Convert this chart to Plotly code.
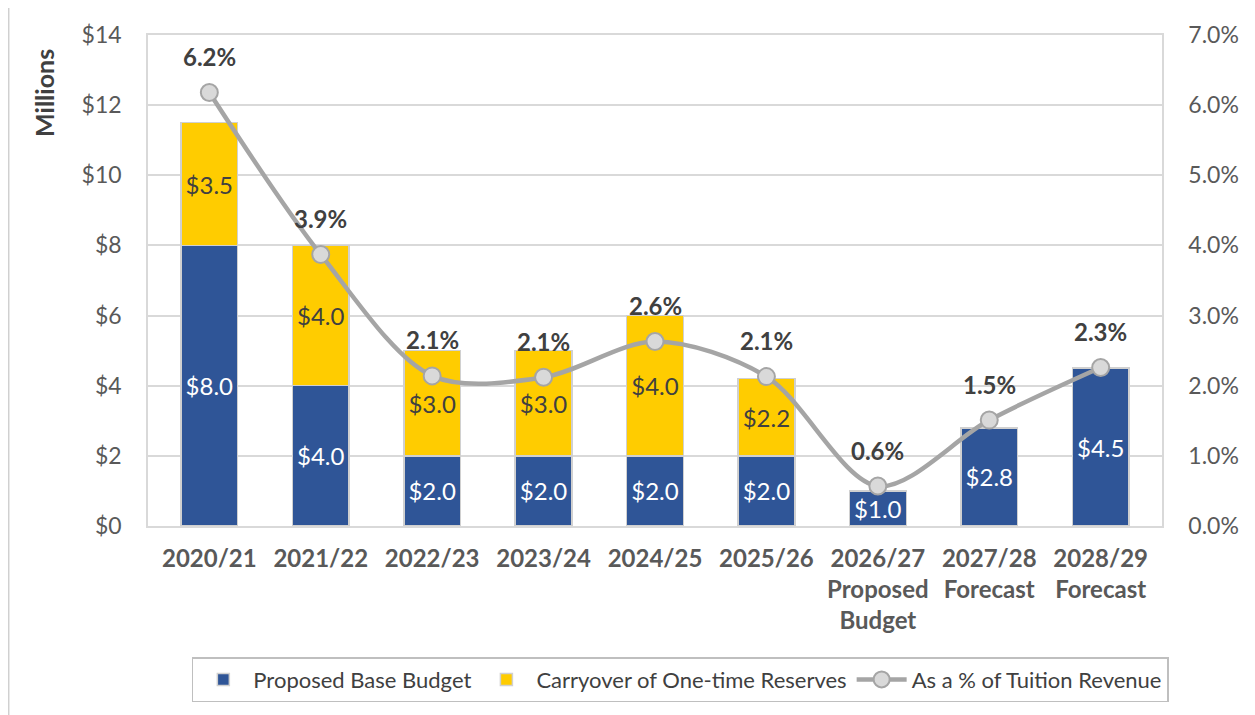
import plotly.graph_objects as go

categories = ["2020/21", "2021/22", "2022/23", "2023/24", "2024/25", "2025/26",
              "2026/27<br>Proposed<br>Budget", "2027/28<br>Forecast", "2028/29<br>Forecast"]
base_budget = [8.0, 4.0, 2.0, 2.0, 2.0, 2.0, 1.0, 2.8, 4.5]
carryover = [3.5, 4.0, 3.0, 3.0, 4.0, 2.2, 0, 0, 0]
pct_tuition = [6.18, 3.87, 2.14, 2.12, 2.63, 2.13, 0.57, 1.51, 2.26]

FONT = "Lato"
BLUE = "#2F5597"
GOLD = "#FFCC00"
GREY = "#A5A5A5"

fig = go.Figure()
fig.add_trace(go.Bar(
    x=categories, y=base_budget, name="Proposed Base Budget",
    marker=dict(color=BLUE, line=dict(color="#D0D0D0", width=1.5)),
    text=[f"${v:.1f}" for v in base_budget], textposition="inside",
    insidetextanchor="middle", textangle=0,
    textfont=dict(color="white", size=24, family=FONT),
))
fig.add_trace(go.Bar(
    x=categories, y=carryover, name="Carryover of One-time Reserves",
    marker=dict(color=GOLD, line=dict(color="#D0D0D0", width=1.5)),
    text=[f"${v:.1f}" if v > 0 else "" for v in carryover], textposition="inside",
    insidetextanchor="middle", textangle=0,
    textfont=dict(color="#404040", size=24, family=FONT),
))
fig.add_trace(go.Scatter(
    x=categories, y=pct_tuition, name="As a % of Tuition Revenue", yaxis="y2",
    mode="lines+markers", line=dict(color=GREY, width=4.5, shape="spline", smoothing=0.9),
    marker=dict(size=17, color="#D9D9D9", line=dict(color=GREY, width=2)),
))
for c, v in zip(categories, pct_tuition):
    fig.add_annotation(x=c, y=v, xref="x", yref="y2", text=f"<b>{v:.1f}%</b>",
                       showarrow=False, yshift=36,
                       font=dict(size=24, color="#404040", family=FONT))

fig.add_annotation(x=-0.1026, y=0.882, xref="paper", yref="paper", text="<b>Millions</b>",
                   textangle=-90, showarrow=False, xanchor="center", yanchor="middle",
                   font=dict(size=25, color="#404040", family=FONT))

fig.add_shape(type="line", xref="paper", yref="paper", x0=-0.1376, x1=-0.1376, y0=-0.45, y1=1.058,
              line=dict(color="#D0D0D0", width=2))
fig.add_shape(type="line", xref="paper", yref="paper", x0=-0.1376, x1=1.2, y0=1.058, y1=1.058,
              line=dict(color="#D0D0D0", width=2))

fig.update_layout(
    width=1247, height=707,
    margin=dict(l=140, r=93, t=27, b=189),
    barmode="stack", bargap=0.49,
    plot_bgcolor="white", paper_bgcolor="white",
    font=dict(family=FONT, color="#595959"),
    showlegend=True,
    legend=dict(orientation="h", x=0.525, xanchor="center", y=-0.267, yanchor="top",
                bordercolor="#BFBFBF", borderwidth=1.5,
                font=dict(size=22, color="#404040", family=FONT),
                itemwidth=50, traceorder="normal"),
    xaxis=dict(tickfont=dict(size=24, color="#595959", family=FONT), showline=True,
               linecolor="#D9D9D9", linewidth=1.5, mirror=True, ticks="",
               tickprefix="<b>", ticksuffix="</b>", ticklabelstandoff=10),
    yaxis=dict(range=[0, 14], dtick=2, tickprefix="$", showgrid=True, gridcolor="#D9D9D9",
               gridwidth=1.5, zeroline=False, showline=True, linecolor="#D9D9D9", linewidth=1.5,
               tickfont=dict(size=23, color="#595959", family=FONT), ticklabelstandoff=20),
    yaxis2=dict(range=[0, 7], dtick=1, overlaying="y", side="right", tickformat=".1f",
                ticksuffix="%", showgrid=False, zeroline=False, showline=True,
                linecolor="#D9D9D9", linewidth=1.5,
                tickfont=dict(size=23, color="#595959", family=FONT), ticklabelstandoff=20),
)

fig.write_html("out.html")
